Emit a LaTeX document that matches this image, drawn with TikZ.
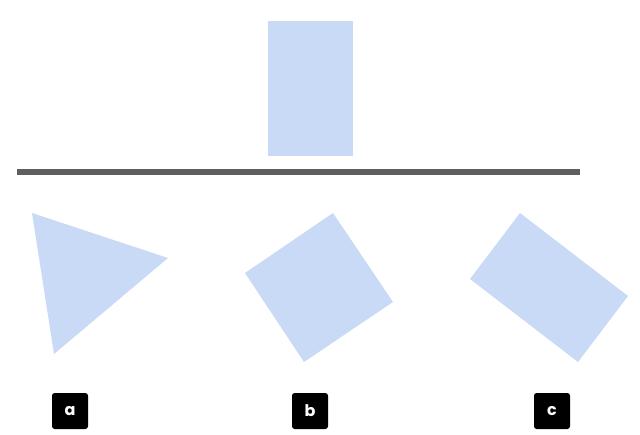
\documentclass[tikz,border=0pt]{standalone}
\usepackage{fontspec}
\setmainfont{Poppins}
\usetikzlibrary{positioning}
\definecolor{paleblue}{HTML}{C9DAF6}
\definecolor{bargray}{HTML}{5F5F5F}
\tikzset{shapefill/.style={fill=paleblue, draw=none},
  tag/.style={fill=black, text=white, font=\bfseries\large, minimum size=27pt, rounded corners=2pt, inner sep=0pt}}

\begin{document}
\begin{tikzpicture}[x=0.75pt, y=-0.75pt]
  \useasboundingbox(0,0)rectangle(640,435);
  \fill[shapefill](268,21)rectangle(353,156);
  \draw[bargray, line width=4.5pt](17,172)--(580,172);
  \fill[shapefill](32,213)--(168,258)--(54,354)--cycle;
  \fill[shapefill](245,273)--(333,213)--(393,302)--(304,362)--cycle;
  \fill[shapefill](470,279)--(520,213)--(628,296)--(578,362)--cycle;
  \node[tag](a) at (70,411){a};
  \node[tag](b) at (310,411){b};
  \node[tag](c) at (552,411){c};
\end{tikzpicture}
\end{document}
